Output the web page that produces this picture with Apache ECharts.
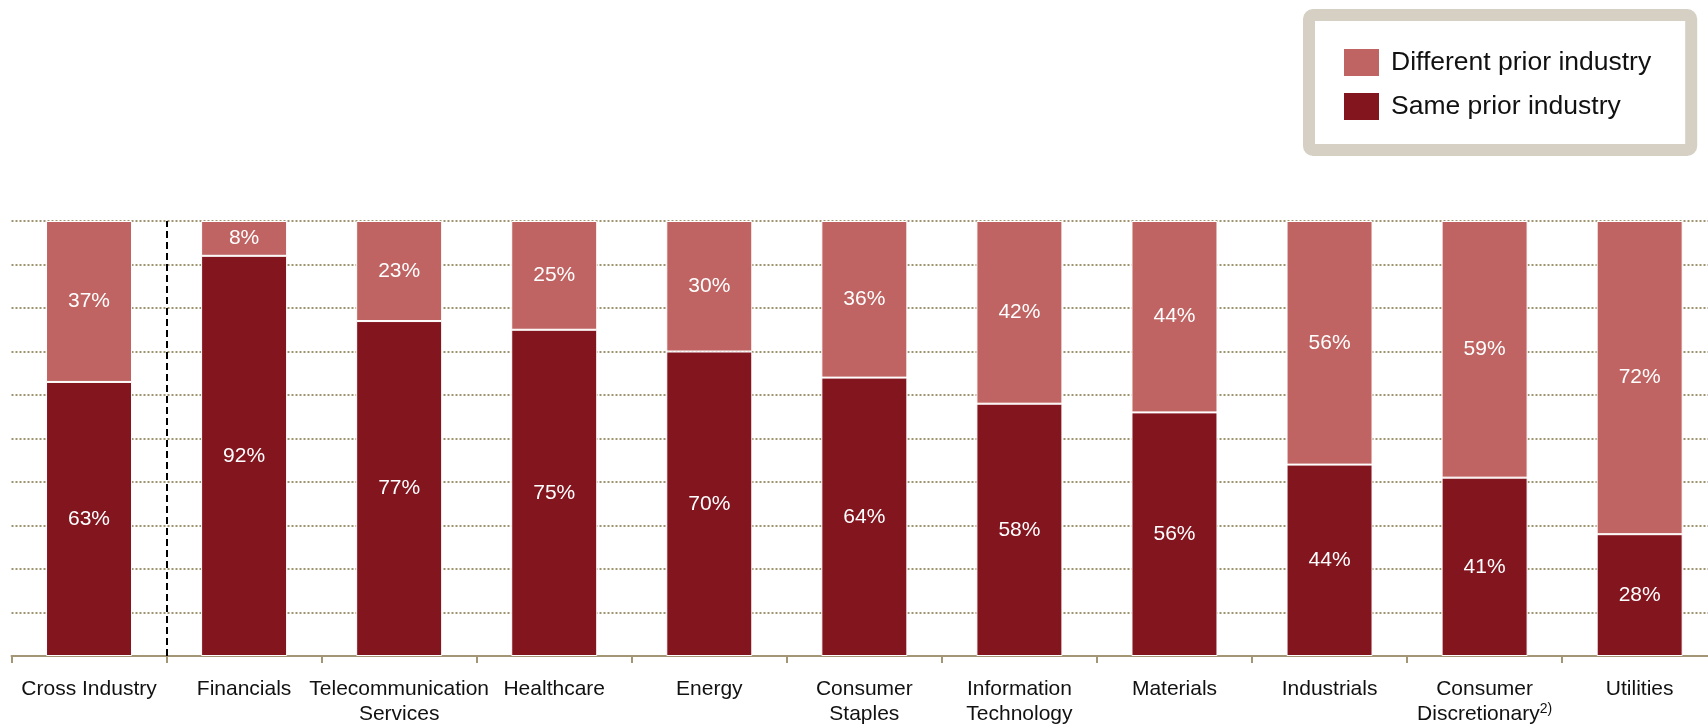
<!DOCTYPE html>
<html>
<head>
<meta charset="utf-8">
<script src="https://cdn.jsdelivr.net/npm/echarts@6/dist/echarts.min.js"></script>
<style>
  html, body { margin: 0; padding: 0; background: #fff; }
  #main { width: 1708px; height: 724px; }
</style>
</head>
<body>
<div id="main"></div>
<script>
// categories along the x axis
var categories = ['Cross Industry', 'Financials', 'Telecommunication\nServices', 'Healthcare', 'Energy',
    'Consumer\nStaples', 'Information\nTechnology', 'Materials', 'Industrials',
    'Consumer\nDiscretionary{sup|2)}', 'Utilities'];
// share of leaders from the same prior industry (%)
var samePrior = [63, 92, 77, 75, 70, 64, 58, 56, 44, 41, 28];
// share of leaders from a different prior industry (%)
var differentPrior = [37, 8, 23, 25, 30, 36, 42, 44, 56, 59, 72];
// boundary (in category widths) after the cross-industry column
var dividerAt = 1;

var font = '"Liberation Sans", Arial, sans-serif';
var chart = echarts.init(document.getElementById('main'));

chart.setOption({
    animation: false,
    textStyle: { fontFamily: font },
    legend: {
        data: ['Different prior industry', 'Same prior industry'],
        orient: 'vertical',
        left: 1309,
        top: 15,
        padding: [32, 40, 28, 33],
        itemWidth: 37,
        itemHeight: 29,
        itemGap: 13,
        icon: 'rect',
        backgroundColor: '#fff',
        borderColor: '#d5d0c3',
        borderWidth: 12,
        borderRadius: 4,
        textStyle: { fontSize: 26.5, color: '#111', fontFamily: font, padding: [0, 0, 0, 6] }
    },
    grid: { left: 11.5, top: 221, right: -9.2, bottom: 68, outerBoundsMode: 'none' },
    xAxis: [{
        type: 'category',
        data: categories,
        axisLine: { lineStyle: { color: '#a39674', width: 2 } },
        axisTick: { show: true, length: 7, lineStyle: { color: '#a39674', width: 2 } },
        axisLabel: {
            interval: 0,
            margin: 21,
            fontSize: 21,
            lineHeight: 25,
            color: '#111',
            fontFamily: font,
            rich: {
                sup: { fontSize: 14, lineHeight: 25, verticalAlign: 'top', color: '#111', fontFamily: font }
            }
        }
    }, {
        type: 'value',
        min: 0,
        max: categories.length,
        show: false,
        splitLine: { show: false }
    }],
    yAxis: {
        type: 'value',
        min: 0,
        max: 100,
        interval: 10,
        axisLabel: { show: false },
        axisLine: { show: false },
        axisTick: { show: false },
        splitLine: { lineStyle: { color: '#9f9472', width: 2, type: [2, 2] } }
    },
    series: [{
        name: 'Same prior industry',
        type: 'bar',
        stack: 'total',
        barWidth: 86,
        data: samePrior,
        itemStyle: { color: '#83151f', borderColor: '#fff', borderWidth: 1 },
        label: { show: true, position: 'inside', color: '#fff', fontSize: 21, fontFamily: font, formatter: '{c}%' }
    }, {
        name: 'Different prior industry',
        type: 'bar',
        stack: 'total',
        barWidth: 86,
        data: differentPrior,
        itemStyle: { color: '#bf6462', borderColor: '#fff', borderWidth: 1 },
        label: { show: true, position: 'inside', color: '#fff', fontSize: 21, fontFamily: font, formatter: '{c}%' }
    }, {
        // dashed divider between the cross-industry bar and the sector bars
        name: 'divider',
        type: 'scatter',
        xAxisIndex: 1,
        data: [],
        markLine: {
            silent: true,
            symbol: 'none',
            label: { show: false },
            lineStyle: { color: '#000', width: 2, type: [7, 4] },
            data: [{ xAxis: dividerAt }]
        }
    }]
});
</script>
</body>
</html>
